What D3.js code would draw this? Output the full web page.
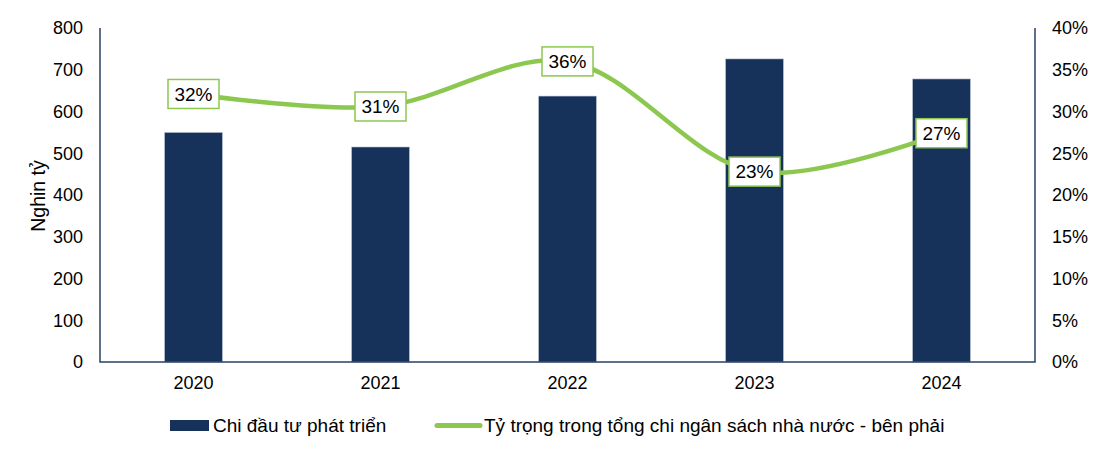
<!DOCTYPE html>
<html>
<head>
<meta charset="utf-8">
<script src="https://cdn.jsdelivr.net/npm/d3@7"></script>
<style>
  html, body { margin: 0; padding: 0; background: #fff; }
  svg text { font-family: "Liberation Sans", Arial, sans-serif; fill: #000; }
</style>
</head>
<body>
<div id="chart"></div>
<script>
const years = ['2020', '2021', '2022', '2023', '2024'];
const invest = [550, 515, 637, 726, 678];          // nghìn tỷ
const share = [32.1, 30.6, 36.0, 22.8, 27.4];       // % tổng chi
const shareLabels = ['32%', '31%', '36%', '23%', '27%'];
const leftTicks = [0, 100, 200, 300, 400, 500, 600, 700, 800];
const rightTicks = [0, 5, 10, 15, 20, 25, 30, 35, 40];

const W = 1116, H = 449;
const m = { top: 28, right: 81, bottom: 87, left: 100 };
const w = W - m.left - m.right;
const h = H - m.top - m.bottom;

const NAVY = '#17325a';
const GREEN = '#8cc850';
const AXIS = '#2b3f63';

const svg = d3.select('#chart').append('svg').attr('width', W).attr('height', H);
const g = svg.append('g').attr('transform', `translate(${m.left},${m.top})`);

const x = d3.scaleBand().domain(years).range([0, w]);
const yL = d3.scaleLinear().domain([0, 800]).range([h, 0]);
const yR = d3.scaleLinear().domain([0, 40]).range([h, 0]);
const barW = x.bandwidth() * 0.31;
const cx = d => x(d) + x.bandwidth() / 2;

// cột
g.selectAll('rect.bar').data(years).join('rect')
  .attr('class', 'bar')
  .attr('x', d => cx(d) - barW / 2)
  .attr('width', barW)
  .attr('y', (d, i) => yL(invest[i]))
  .attr('height', (d, i) => h - yL(invest[i]))
  .attr('fill', NAVY)
  .attr('stroke', '#c4cad6').attr('stroke-width', 0.6);

// trục
const styleAxis = gg => {
  gg.select('.domain').remove();
  gg.selectAll('text').style('font-size', '18px').style('fill', '#000');
};
g.append('g')
  .call(d3.axisLeft(yL).tickValues(leftTicks).tickSize(0).tickPadding(17))
  .call(styleAxis);
g.append('g').attr('transform', `translate(${w},0)`)
  .call(d3.axisRight(yR).tickValues(rightTicks).tickSize(0).tickPadding(17).tickFormat(d => d + '%'))
  .call(styleAxis);
g.append('g').attr('transform', `translate(0,${h})`)
  .call(d3.axisBottom(x).tickSize(0).tickPadding(14))
  .call(styleAxis);

g.append('path')
  .attr('d', `M0,0V${h}H${w}V0`)
  .attr('fill', 'none').attr('stroke', AXIS).attr('stroke-width', 1.5);

// đường tỷ trọng
const line = d3.line()
  .x((d, i) => cx(years[i]))
  .y(d => yR(d))
  .curve(d3.curveCatmullRom);
g.append('path').datum(share)
  .attr('d', line)
  .attr('fill', 'none').attr('stroke', GREEN).attr('stroke-width', 4.5);

// nhãn
const lab = g.selectAll('g.lab').data(share).join('g')
  .attr('class', 'lab')
  .attr('transform', (d, i) => `translate(${cx(years[i])},${yR(d)})`);
lab.append('rect')
  .attr('x', -25.5).attr('y', -14.5).attr('width', 51).attr('height', 29)
  .attr('fill', '#fff').attr('stroke', GREEN).attr('stroke-width', 1.5);
lab.append('text')
  .attr('text-anchor', 'middle').attr('dy', '0.36em')
  .style('font-size', '19px')
  .text((d, i) => shareLabels[i]);

// tiêu đề trục trái
svg.append('text')
  .attr('transform', 'translate(38,196) rotate(-90)')
  .attr('text-anchor', 'middle').attr('dy', '0.36em')
  .style('font-size', '19.5px')
  .text('Nghin tỷ');

// chú giải
const leg = svg.append('g');
leg.append('rect').attr('x', 170).attr('y', 420).attr('width', 39).attr('height', 11).attr('fill', NAVY);
leg.append('text').attr('x', 213).attr('y', 425.5).attr('dy', '0.36em')
  .style('font-size', '19px').text('Chi đầu tư phát triển');
leg.append('line').attr('x1', 437).attr('x2', 480).attr('y1', 425.5).attr('y2', 425.5)
  .attr('stroke', GREEN).attr('stroke-width', 5).attr('stroke-linecap', 'round');
leg.append('text').attr('x', 484).attr('y', 425.5).attr('dy', '0.36em')
  .style('font-size', '19px').text('Tỷ trọng trong tổng chi ngân sách nhà nước - bên phải');
</script>
</body>
</html>
